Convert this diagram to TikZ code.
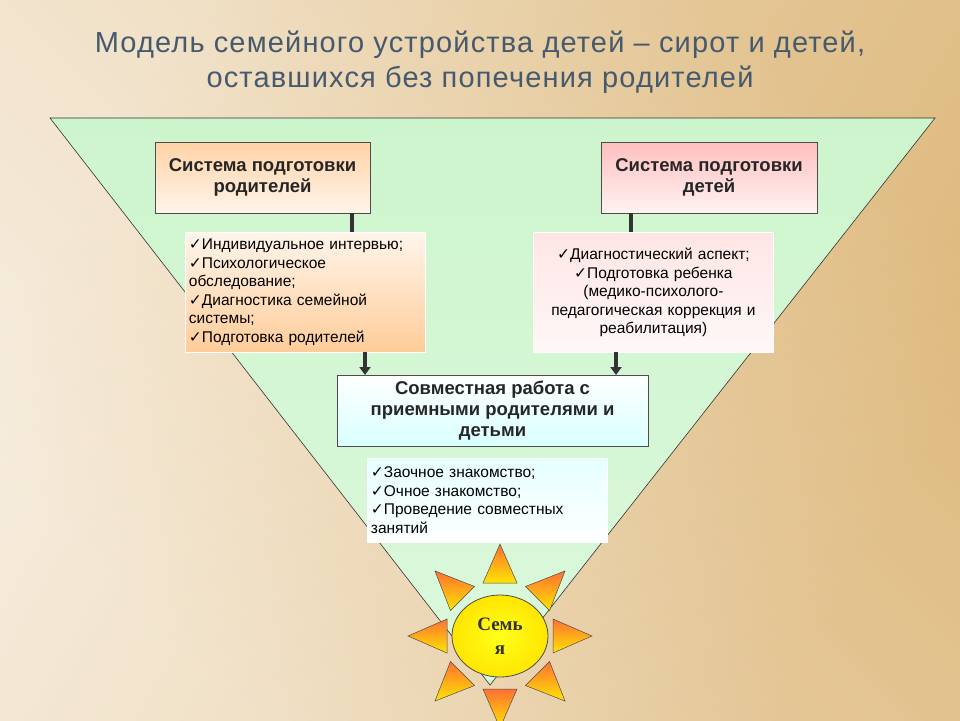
\documentclass[tikz,border=0pt]{standalone}
\usepackage{fontspec}
\setmainfont{Liberation Sans}
\newfontfamily\djsans{DejaVu Sans}
\newfontfamily\serfam{Liberation Serif}
\newfontfamily\wide[LetterSpace=4]{Liberation Sans}
\usetikzlibrary{arrows.meta,shadings,shapes.geometric}
\newcommand{\ck}{{\djsans ✓}}
\definecolor{tan}{RGB}{222,185,125}
\definecolor{tri}{RGB}{205,245,205}
\tikzset{
 hdr/.style={draw=black!70,line width=0.8pt,minimum height=71pt,align=center,font=\bfseries\fontsize{18.5}{21}\selectfont,text=black!85},
 lst/.style={draw=white,line width=0.8pt,align=left,anchor=north west,inner sep=3pt,font=\fontsize{15.5}{18.5}\selectfont},
 con/.style={line width=3.5pt,black!80},
 arr/.style={con,-{Triangle[length=8pt,width=11pt]}},
 ray/.style={draw=black!70,line width=0.5pt,top color=orange!60!red!80,bottom color=yellow!80!orange}
}
\begin{document}
\begin{tikzpicture}[x=1pt,y=-1pt]
\useasboundingbox (0,0) rectangle (960,720);
\shade[left color=white,right color=tan,shading angle=60] (0,0) rectangle (960,720);
\shade[shading=axis,top color=tan!40!white,bottom color=tan,shading angle=135,opacity=0.6] (0,0) rectangle (960,720);
\node[text={rgb,255:red,70;green,90;blue,110},font=\wide\fontsize{29}{35}\selectfont,align=center] (title) at (480,62) {Модель семейного устройства детей – сирот и детей,\\ оставшихся без попечения родителей};
\shade[draw=black!80,line width=0.6pt,top color=tri,bottom color=tri!70!white] (50,118) -- (935,118) -- (490,685) -- cycle;
\node[hdr,minimum width=215pt,top color=orange!35!white,bottom color=orange!8!white] (A) at (262.5,177.5) {Система подготовки\\родителей};
\node[hdr,minimum width=216pt,top color=red!25!white,bottom color=red!5!white] (B) at (709,177.5) {Система подготовки\\детей};
\node[lst,minimum width=240pt,minimum height=120pt,top color=orange!8!white,bottom color=orange!40!white,text width=233pt] (L1) at (185,232) {\ck Индивидуальное интервью;\\\ck Психологическое\\обследование;\\\ck Диагностика семейной\\системы;\\\ck Подготовка родителей};
\node[lst,minimum width=240pt,minimum height=120pt,top color=red!10!white,bottom color=red!3!white,text width=233pt,align=center] (L2) at (533,232) {\ck Диагностический аспект;\\\ck Подготовка ребенка\\(медико-психолого-\\педагогическая коррекция и\\реабилитация)};
\node[hdr,minimum width=311pt,top color=white,bottom color=cyan!15!white] (C) at (492.5,410.5) {Совместная работа с\\приемными родителями и\\детьми};
\node[lst,minimum width=240pt,minimum height=84pt,top color=cyan!10!white,bottom color=white,text width=233pt] (L3) at (367,458) {\ck Заочное знакомство;\\\ck Очное знакомство;\\\ck Проведение совместных\\занятий};
\draw[con] (352,213) -- (352,232);
\draw[con] (631,213) -- (631,232);
\draw[arr] (365,352) -- (365,375);
\draw[arr] (616,352) -- (616,375);
% sun
\foreach \a in {0,45,...,315}{
 \shade[ray,rotate around={\a:(500,636)}] (553,619) -- (553,653) -- (592,636) -- cycle;}
\node[draw=black!70,line width=0.8pt,ellipse,minimum width=96pt,minimum height=82pt,inner sep=0,inner color=yellow!90!white,outer color=yellow!80!orange,font=\serfam\bfseries\fontsize{19}{24}\selectfont,align=center,text=black!80] (S) at (500,636) {Семь\\я};
\end{tikzpicture}
\end{document}
